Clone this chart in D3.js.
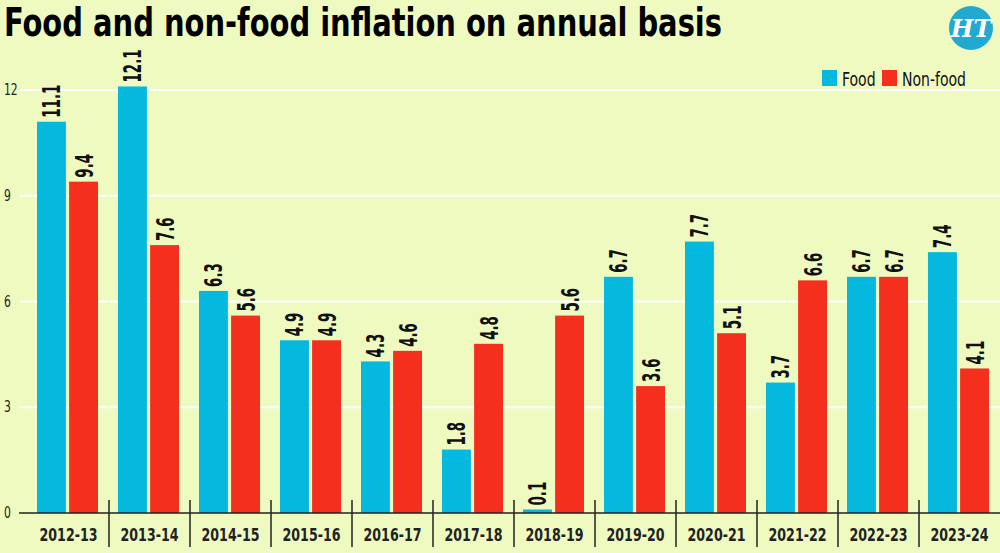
<!DOCTYPE html>
<html>
<head>
<meta charset="utf-8">
<script src="https://cdnjs.cloudflare.com/ajax/libs/d3/7.8.5/d3.min.js"></script>
<style>
  html, body { margin: 0; padding: 0; background: #eefac0; }
  svg { display: block; }
</style>
</head>
<body>
<svg id="chart"></svg>
<script>
// chart data
var years = ["2012-13", "2013-14", "2014-15", "2015-16", "2016-17", "2017-18",
             "2018-19", "2019-20", "2020-21", "2021-22", "2022-23", "2023-24"];
var foodValues = [11.1, 12.1, 6.3, 4.9, 4.3, 1.8, 0.1, 6.7, 7.7, 3.7, 6.7, 7.4];
var nonFoodValues = [9.4, 7.6, 5.6, 4.9, 4.6, 4.8, 5.6, 3.6, 5.1, 6.6, 6.7, 4.1];
var yTicks = [0, 3, 6, 9, 12];
var seriesNames = ["Food", "Non-food"];

var W = 1000, H = 553;
var bg = "#eefac0";
var colors = { "Food": "#04b8de", "Non-food": "#f42f1e" };
var font = "'DejaVu Sans Condensed', 'DejaVu Sans', sans-serif";

var svg = d3.select("#chart").attr("width", W).attr("height", H);
svg.append("rect").attr("width", W).attr("height", H).attr("fill", bg);

var dataset = years.map(function (y, i) {
    return { year: y, values: [
        { key: "Food", value: foodValues[i] },
        { key: "Non-food", value: nonFoodValues[i] }
    ] };
});

var margin = { top: 90, bottom: 40, left: 28, right: 0 };

var xScale = d3.scaleBand()
    .domain(years)
    .range([margin.left, W - margin.right]);

var xInner = d3.scaleBand()
    .domain(seriesNames)
    .range([9, xScale.bandwidth() - 11])
    .paddingInner(0.1);

var yScale = d3.scaleLinear()
    .domain([0, 12])
    .range([513, 90]);

// grid lines
svg.append("g")
    .attr("class", "grid")
    .selectAll("line")
    .data(yTicks.filter(function (d) { return d > 0; }))
    .enter().append("line")
    .attr("x1", 20).attr("x2", W)
    .attr("y1", function (d) { return yScale(d); })
    .attr("y2", function (d) { return yScale(d); })
    .attr("stroke", "#ffffff")
    .attr("stroke-width", 2);

// y tick labels
svg.append("g")
    .selectAll("text")
    .data(yTicks)
    .enter().append("text")
    .attr("transform", function (d) { return "translate(4," + (yScale(d) + 5) + ") scale(0.8,1)"; })
    .attr("font-family", font)
    .attr("font-size", 15)
    .attr("fill", "#222")
    .text(function (d) { return d; });

// bars
var groups = svg.append("g").attr("class", "bars")
    .selectAll("g")
    .data(dataset)
    .enter().append("g")
    .attr("transform", function (d) { return "translate(" + xScale(d.year) + ",0)"; });

groups.selectAll("rect")
    .data(function (d) { return d.values; })
    .enter().append("rect")
    .attr("x", function (d) { return xInner(d.key); })
    .attr("y", function (d) { return yScale(d.value); })
    .attr("width", xInner.bandwidth())
    .attr("height", function (d) { return yScale(0) - yScale(d.value); })
    .attr("fill", function (d) { return colors[d.key]; });

// value labels (rotated, squeezed along the text)
groups.selectAll("text")
    .data(function (d) { return d.values; })
    .enter().append("text")
    .attr("transform", function (d) {
        var cx = xInner(d.key) + xInner.bandwidth() / 2 + 9;
        var cy = yScale(d.value) - 4;
        return "translate(" + cx + "," + cy + ") rotate(-90) scale(0.62,1)";
    })
    .attr("font-family", font)
    .attr("font-weight", "bold")
    .attr("font-size", 24)
    .attr("fill", "#111")
    .text(function (d) { return d.value.toFixed(1); });

// x axis
var xAxis = svg.append("g").attr("class", "x axis");
xAxis.append("line")
    .attr("x1", 19).attr("x2", W)
    .attr("y1", yScale(0)).attr("y2", yScale(0))
    .attr("stroke", "#222").attr("stroke-width", 1.5);

xAxis.selectAll("line.sep")
    .data(years.slice(1))
    .enter().append("line")
    .attr("class", "sep")
    .attr("x1", function (d) { return xScale(d); })
    .attr("x2", function (d) { return xScale(d); })
    .attr("y1", 500).attr("y2", 547)
    .attr("stroke", "#222").attr("stroke-width", 1.5);

xAxis.selectAll("text")
    .data(years)
    .enter().append("text")
    .attr("transform", function (d) {
        return "translate(" + (xScale(d) + xScale.bandwidth() / 2) + ",541) scale(0.78,1)";
    })
    .attr("text-anchor", "middle")
    .attr("font-family", font)
    .attr("font-weight", "bold")
    .attr("font-size", 18)
    .attr("fill", "#222")
    .text(function (d) { return d; });

// title
svg.append("text")
    .attr("x", 4)
    .attr("y", 36)
    .attr("font-family", font)
    .attr("font-weight", "bold")
    .attr("font-size", 39)
    .attr("textLength", 718)
    .attr("lengthAdjust", "spacingAndGlyphs")
    .attr("fill", "#000")
    .text("Food and non-food inflation on annual basis");

// HT logo
var logo = svg.append("g").attr("transform", "translate(971,28)");
logo.append("circle").attr("r", 22).attr("fill", "#21a9cf");
logo.append("text")
    .attr("y", 9)
    .attr("text-anchor", "middle")
    .attr("font-family", "'DejaVu Serif', 'Liberation Serif', serif")
    .attr("font-style", "italic")
    .attr("font-weight", "bold")
    .attr("font-size", 24)
    .attr("fill", "#ffffff")
    .text("HT");

// legend
var legend = svg.append("g").attr("class", "legend");
var legendX = [822, 882];
seriesNames.forEach(function (name, i) {
    var g = legend.append("g").attr("transform", "translate(" + legendX[i] + ",70)");
    g.append("rect").attr("width", 15).attr("height", 16).attr("fill", colors[name]);
    g.append("text")
        .attr("transform", "translate(20,16) scale(0.78,1)")
        .attr("font-family", font)
        .attr("font-size", 20)
        .attr("fill", "#111")
        .text(name);
});
</script>
</body>
</html>
